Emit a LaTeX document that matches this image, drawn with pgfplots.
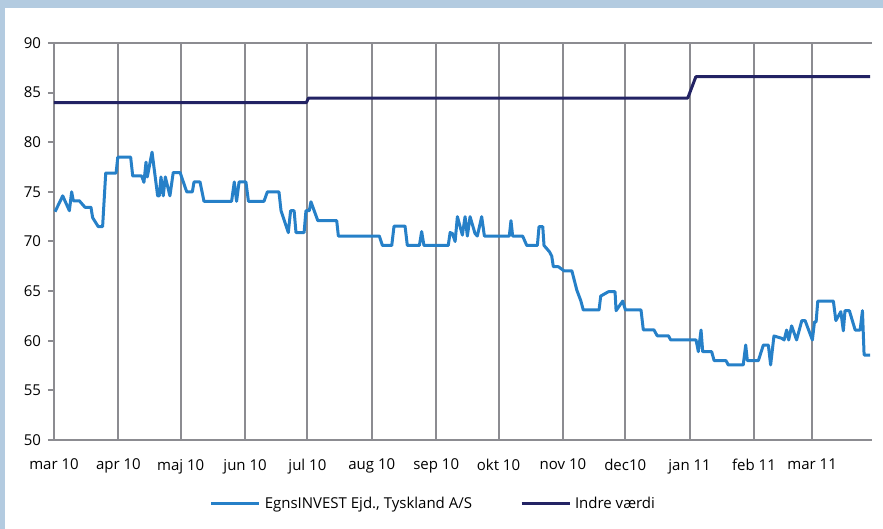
\documentclass[border=0pt]{standalone}
\usepackage{fontspec}
\setmainfont{Open Sans}
\usepackage{pgfplots}
\pgfplotsset{compat=1.18}
\definecolor{bluel}{RGB}{38,128,200}
\definecolor{navy}{RGB}{35,35,100}
\definecolor{gridg}{RGB}{140,140,145}
\definecolor{framec}{RGB}{179,203,224}
\begin{document}
\begin{tikzpicture}
\fill[white] (-27pt,-44.5pt) rectangle (414.5pt,220pt);
\fill[framec] (-27pt,216pt) rectangle (414.5pt,220pt);
\fill[framec] (-27pt,-44.5pt) rectangle (-24.5pt,220pt);
\begin{axis}[
 at={(0pt,0pt)}, anchor=south west,
 width=409pt, height=198.5pt, scale only axis,
 xmin=0, xmax=393.8, ymin=50, ymax=90,
 axis y line*=left,
 axis line style={gridg, line width=1pt},
 xtick={0,31,61,92,122,153,184,214,245,275,306,337,365},
 xticklabels={mar 10,apr 10,maj 10,jun 10,jul 10,aug 10,sep 10,okt 10,nov 10,dec10,jan 11,feb 11,mar 11},
 ytick={50,55,...,90},
 xmajorgrids, major grid style={gridg, line width=1pt},
 x tick style={draw=none},
 y tick style={gridg, line width=1pt},
 tick align=outside, major tick length=3pt,
 tick label style={font=\fontsize{7.5}{9}\selectfont},
 xticklabel style={yshift=-3pt},
 /pgf/number format/assume math mode=true,
 legend style={draw=none, fill=none, at={(0.465,-0.161)}, anchor=center,
   font=\fontsize{7.5}{9}\selectfont,
   /tikz/every even column/.append style={column sep=22pt}},
 legend columns=2,
 legend image code/.code={\draw[#1] (0pt,0pt) -- (24pt,0pt);},
]
\addplot[bluel, line width=1.5pt, line join=round] coordinates {
(0.5,73.0) (4.2,74.6) (7.4,73.1) (8.5,75.0) (9.3,74.1) (12.2,74.1) (14.9,73.45) (17.8,73.45) (18.6,72.4) (21.3,71.5) (23.4,71.5) (24.9,76.9) (29.9,76.9) (30.7,78.5) (36.9,78.5) (37.9,76.6) (42.2,76.6) (43.3,75.96) (44.3,78.0) (44.9,76.5) (47.2,79.0) (49.9,74.6) (50.7,74.6) (51.5,76.5) (52.6,74.6) (53.6,76.5) (55.8,74.6) (57.4,76.95) (60.7,76.95) (63.9,75.0) (66.6,75.0) (67.4,76.0) (70.3,76.0) (72.2,74.05) (85.5,74.05) (86.8,76.0) (87.9,74.05) (89.1,76.0) (92.4,76.0) (93.6,74.05)
(101.1,74.05) (102.7,75.0) (108.3,75.0) (109.3,73.1) (112.8,70.9) (113.9,73.1) (115.6,73.1) (116.5,70.9) (120.4,70.9) (121.3,73.1) (122.9,73.1) (123.7,74.0) (127.0,72.1) (136.1,72.1) (136.9,70.55) (156.6,70.55) (158.1,69.6) (162.6,69.6) (163.7,71.55) (169.0,71.55) (170.1,69.6) (175.9,69.6) (177.0,71.0) (178.1,69.6) (189.8,69.6) (190.7,70.9) (191.8,70.8) (193.1,70.0) (194.2,72.5) (196.6,70.65) (197.9,72.5) (199.0,70.55) (200.3,72.5) (202.7,70.8) (203.8,70.55) (205.9,72.5) (207.2,70.55) (219.2,70.55) (220.0,72.1) (220.8,70.55) (225.6,70.55) (227.6,69.6) (232.7,69.6) (233.5,71.5) (235.3,71.5) (235.9,69.6) (238.5,68.97)
(239.6,68.54) (240.4,67.46) (242.8,67.46) (245.5,67.05) (249.3,67.05) (251.7,65.1) (253.6,64.04) (254.8,63.1) (262.4,63.1) (263.2,64.5) (266.9,64.94) (270.1,64.94) (270.6,63.03) (273.8,64.0) (275.1,63.1) (282.6,63.1) (283.7,61.1) (288.8,61.1) (290.4,60.5)
(295.8,60.5) (296.9,60.08) (309.1,60.08) (310.2,58.9) (311.5,61.08) (312.3,58.9) (316.6,58.9) (317.8,58.0) (323.5,58.0) (324.6,57.56) (331.8,57.56) (333.0,59.57) (333.8,58.0) (339.1,58.0) (341.5,59.57) (343.9,59.57) (345.0,57.56) (346.6,60.48) (350.3,60.25) (351.5,60.08) (352.7,61.08) (353.7,60.08) (355.1,61.5) (357.5,60.08) (360.0,62.03) (361.6,62.03) (365.1,60.08) (366.1,61.9) (366.9,61.9) (367.7,64.0) (375.2,64.0) (376.4,62.03) (378.8,62.93) (380.0,61.0) (380.8,63.03) (382.9,63.03) (385.7,61.08) (388.1,61.08) (389.2,63.03) (390.0,58.56) (392.9,58.56)
};
\addlegendentry{EgnsINVEST Ejd., Tyskland A/S}
\addplot[navy, line width=1.5pt, line join=round] coordinates {
(0,84.0) (121.5,84.0) (122.5,84.45) (305.1,84.45) (309.0,86.6) (392.9,86.6)
};
\addlegendentry{Indre værdi}
\end{axis}
\end{tikzpicture}
\end{document}
